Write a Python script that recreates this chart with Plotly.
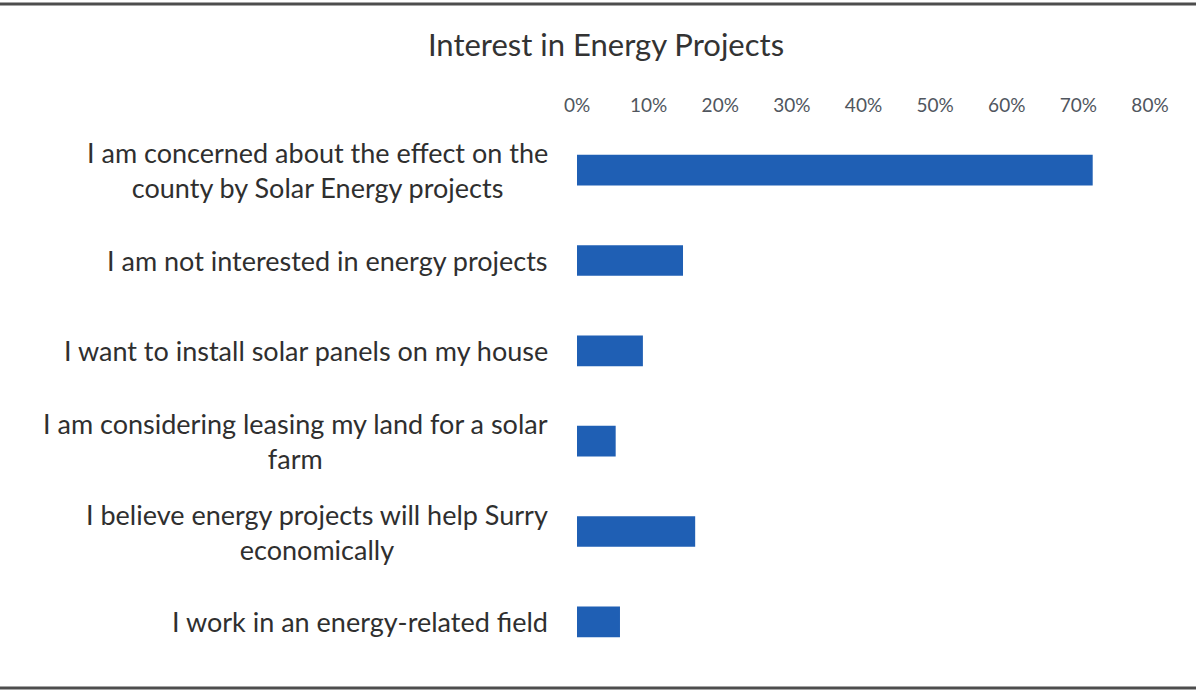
import plotly.graph_objects as go

# Survey responses: share of respondents selecting each statement
categories = [
    "I am concerned about the effect on the<br>county by Solar Energy projects",
    "I am not interested in energy projects",
    "I want to install solar panels on my house",
    "I am considering leasing my land for a solar<br>farm",
    "I believe energy projects will help Surry<br>economically",
    "I work in an energy-related field",
]
shares = [0.72, 0.148, 0.092, 0.054, 0.165, 0.06]

tick_vals = [0, 0.1, 0.2, 0.3, 0.4, 0.5, 0.6, 0.7, 0.8]
tick_text = ["0%", "10%", "20%", "30%", "40%", "50%", "60%", "70%", "80%"]

W, H = 1196, 692
ML, MR, MT, MB = 577, 46, 125, 25
PW, PH = W - ML - MR, H - MT - MB

fig = go.Figure(
    go.Bar(
        x=shares,
        y=categories,
        orientation="h",
        marker=dict(color="#1f5fb4", line=dict(width=0)),
        hoverinfo="skip",
    )
)

# Category labels: right-anchored blocks with centred lines
annotations = [
    dict(
        x=0, xref="paper", xshift=-27, xanchor="right",
        y=c, yref="y", yanchor="middle",
        text=c, align="center", showarrow=False,
        font=dict(family="Lato", size=27, color="#2f2f2f"),
    )
    for c in categories
]


def hline(py):
    yp = (H - MB - py) / PH
    return dict(type="line", xref="paper", yref="paper",
                x0=-ML / PW, x1=(W - ML) / PW, y0=yp, y1=yp,
                line=dict(color="#4d4d4d", width=3))


fig.update_layout(
    width=W,
    height=H,
    margin=dict(l=ML, r=MR, t=MT, b=MB),
    paper_bgcolor="white",
    plot_bgcolor="white",
    bargap=0.66,
    showlegend=False,
    title=dict(
        text="Interest in Energy Projects",
        x=606 / W,
        xanchor="center",
        y=1 - 45 / H,
        yanchor="middle",
        font=dict(family="Lato", size=31, color="#333333"),
    ),
    xaxis=dict(
        side="top",
        range=[0, 0.8],
        tickvals=tick_vals,
        ticktext=tick_text,
        showgrid=False,
        zeroline=False,
        showline=False,
        ticks="",
        ticklabelstandoff=8,
        tickfont=dict(family="Lato", size=19, color="#50565e"),
    ),
    yaxis=dict(
        autorange="reversed",
        showgrid=False,
        zeroline=False,
        showline=False,
        ticks="",
        showticklabels=False,
    ),
    annotations=annotations,
    shapes=[hline(4), hline(688)],
)

fig.write_html("out.html")
